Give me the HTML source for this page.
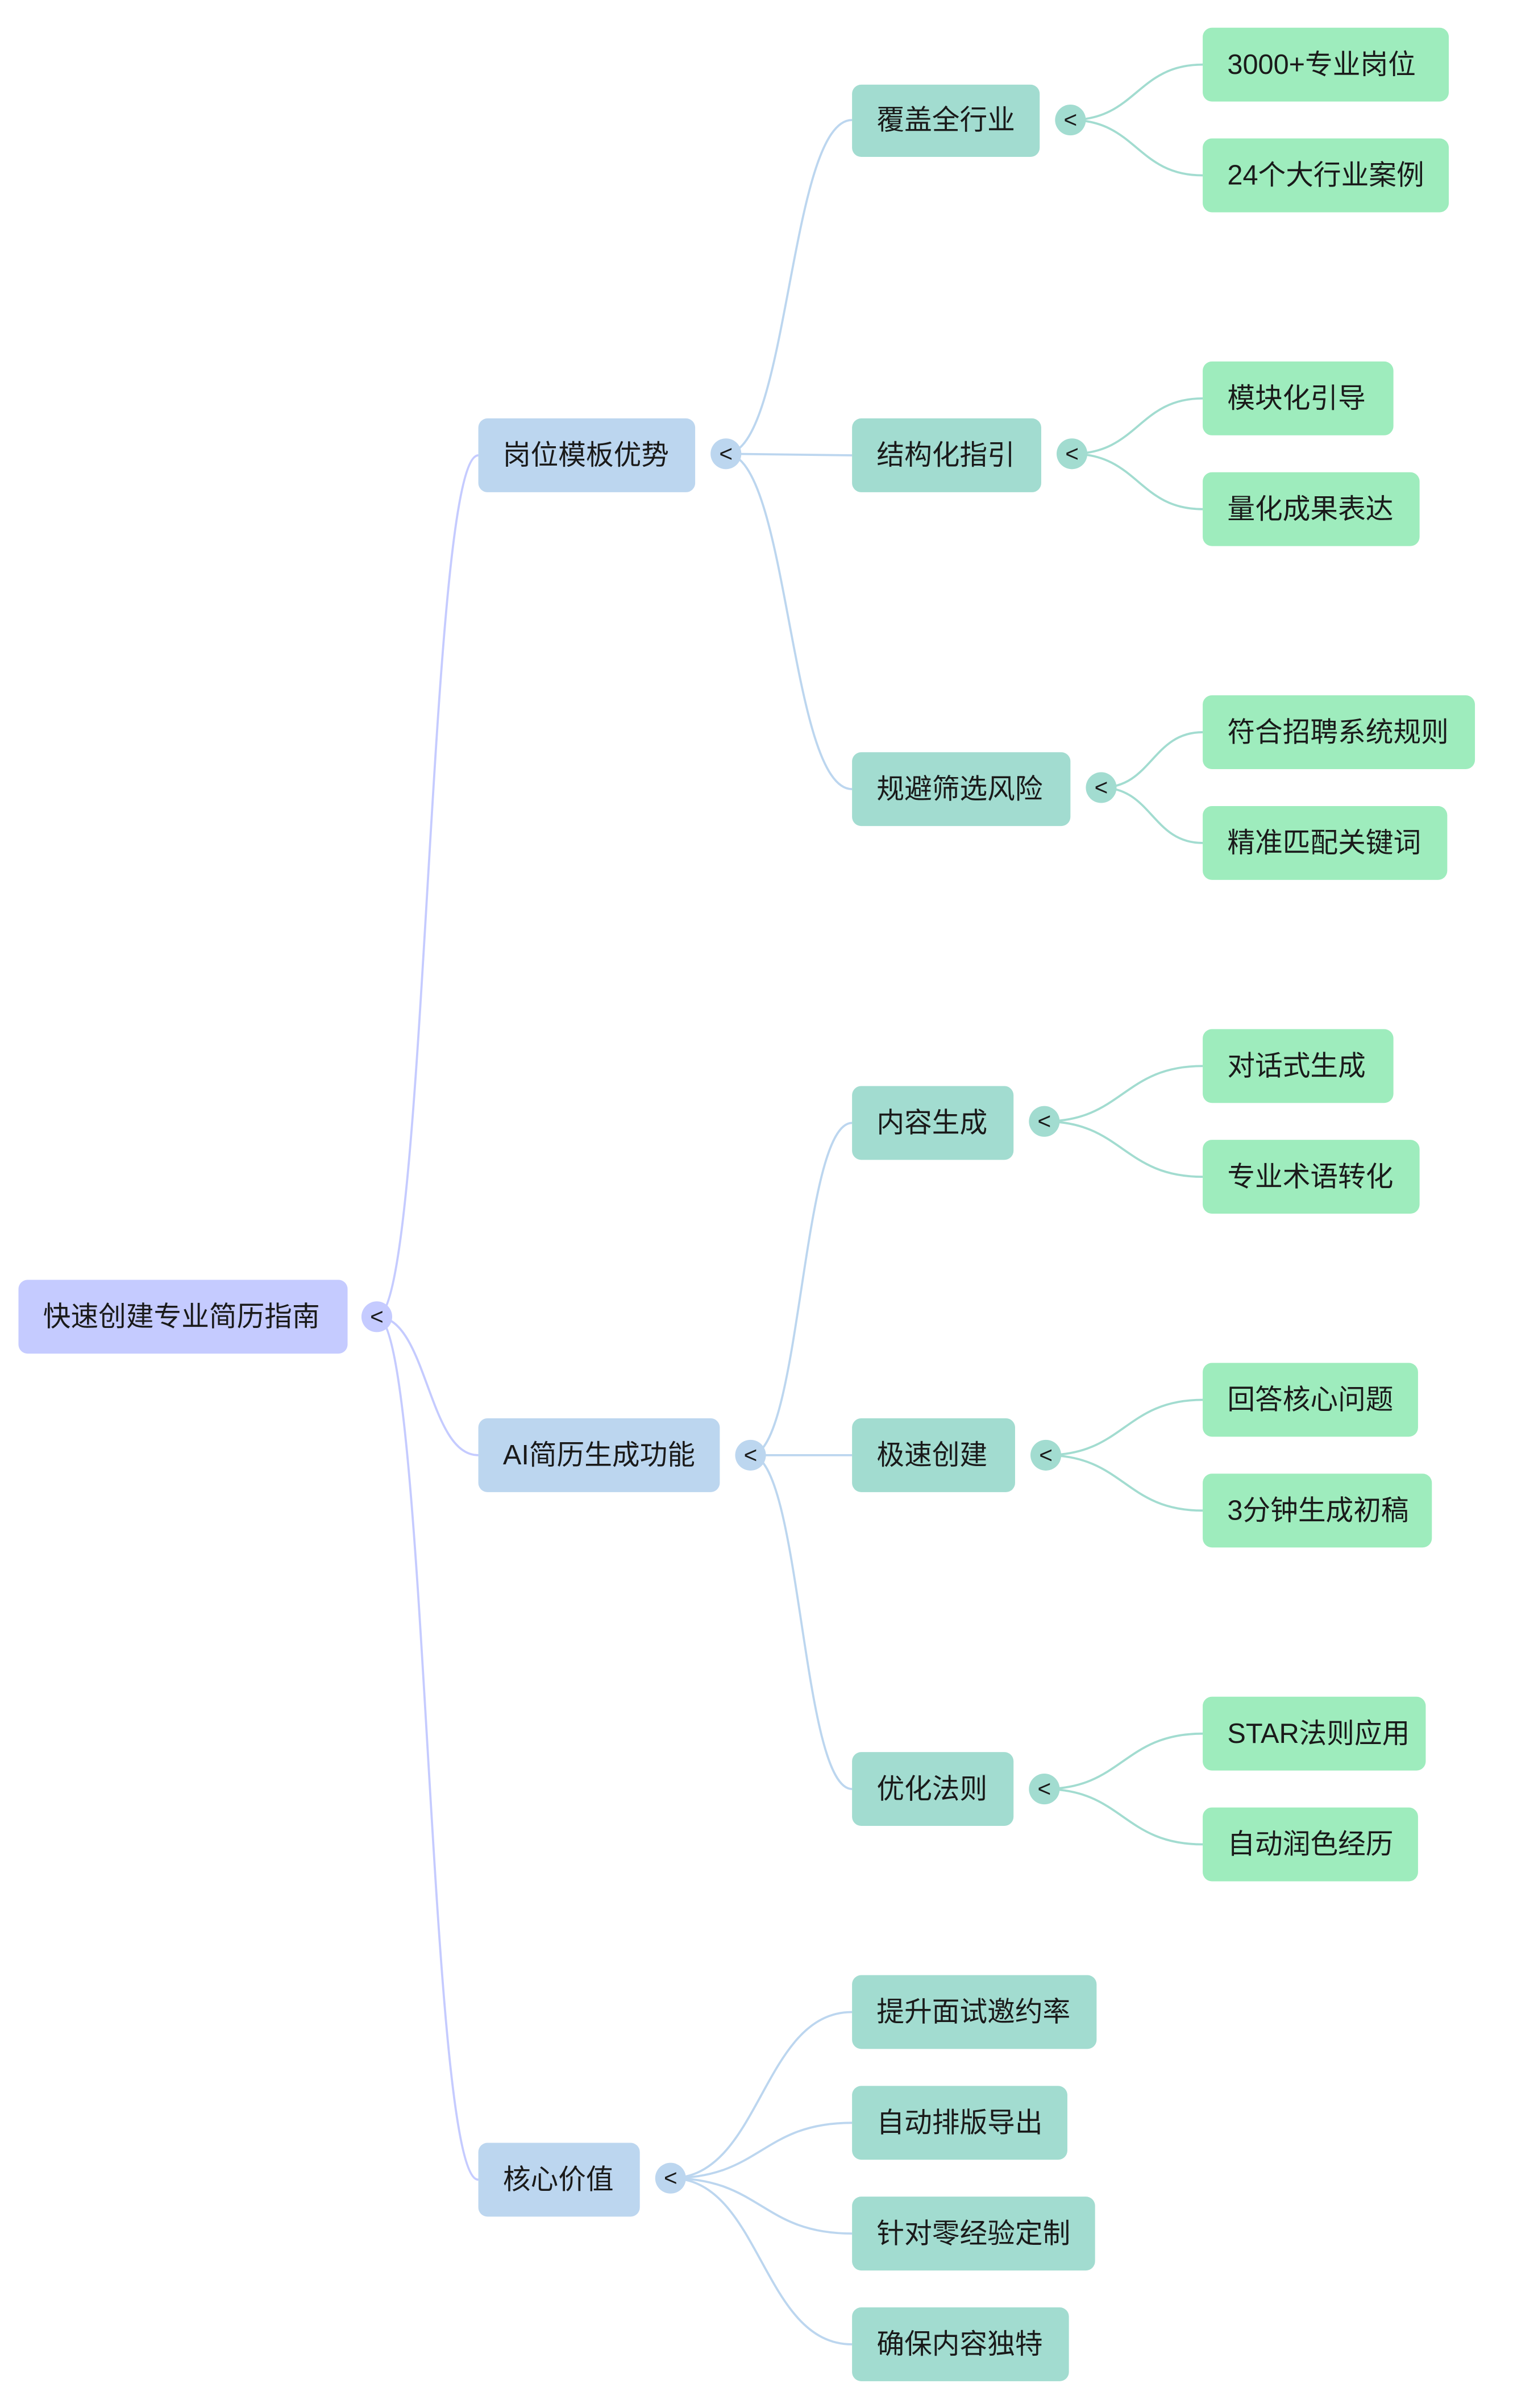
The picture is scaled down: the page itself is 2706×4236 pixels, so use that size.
<!DOCTYPE html>
<html><head><meta charset="utf-8"><style>
html,body{margin:0;padding:0;background:#fff;}
svg{display:block;}
text{font-family:"Liberation Sans","Noto Sans CJK SC",sans-serif;fill:#1a1a1a;}
</style></head><body>
<svg width="2706" height="4236" viewBox="0 0 1000 1565.4" xmlns="http://www.w3.org/2000/svg">
<g fill="none" stroke-width="1.4">
<g stroke="#c5cbff">
<path d="M245 856 C278 856 278 296 311 296"/>
<path d="M245 856 C278 856 278 946 311 946"/>
<path d="M245 856 C278 856 278 1417 311 1417"/>
</g>
<g stroke="#bcd6ef">
<path d="M472 295 C513 295 513 78 554 78"/>
<path d="M472 295 L554 296"/>
<path d="M472 295 C513 295 513 513 554 513"/>
<path d="M488 946 C521 946 521 730 554 730"/>
<path d="M488 946 L554 946"/>
<path d="M488 946 C521 946 521 1163 554 1163"/>
<path d="M436 1416 C495 1416 495 1308 554 1308"/>
<path d="M436 1416 C495 1416 495 1380 554 1380"/>
<path d="M436 1416 C495 1416 495 1452 554 1452"/>
<path d="M436 1416 C495 1416 495 1524 554 1524"/>
</g>
<g stroke="#a2dcd0">
<path d="M696 78 C739 78 739 42 782 42"/>
<path d="M696 78 C739 78 739 114 782 114"/>
<path d="M697 295 C740 295 740 259 782 259"/>
<path d="M697 295 C740 295 740 331 782 331"/>
<path d="M716 512 C749 512 749 476 782 476"/>
<path d="M716 512 C749 512 749 548 782 548"/>
<path d="M679 729 C730 729 730 693 782 693"/>
<path d="M679 729 C730 729 730 765 782 765"/>
<path d="M680 946 C731 946 731 910 782 910"/>
<path d="M680 946 C731 946 731 982 782 982"/>
<path d="M679 1163 C730 1163 730 1127 782 1127"/>
<path d="M679 1163 C730 1163 730 1199 782 1199"/>
</g>
</g>
<g font-size="18">
<rect x="12" y="832" width="214" height="48" rx="6" fill="#c5cbff"/>
<text x="28" y="862">快速创建专业简历指南</text>
<g fill="#bcd6ef">
<rect x="311" y="272" width="141" height="48" rx="6"/>
<rect x="311" y="922" width="157" height="48" rx="6"/>
<rect x="311" y="1393" width="105" height="48" rx="6"/>
</g>
<text x="327" y="302">岗位模板优势</text>
<text x="327" y="952">AI简历生成功能</text>
<text x="327" y="1423">核心价值</text>
<g fill="#a2dcd0">
<rect x="554" y="55" width="122" height="47" rx="6"/>
<rect x="554" y="272" width="123" height="48" rx="6"/>
<rect x="554" y="489" width="142" height="48" rx="6"/>
<rect x="554" y="706" width="105" height="48" rx="6"/>
<rect x="554" y="922" width="106" height="48" rx="6"/>
<rect x="554" y="1139" width="105" height="48" rx="6"/>
<rect x="554" y="1284" width="159" height="48" rx="6"/>
<rect x="554" y="1356" width="140" height="48" rx="6"/>
<rect x="554" y="1428" width="158" height="48" rx="6"/>
<rect x="554" y="1500" width="141" height="48" rx="6"/>
</g>
<text x="570" y="84">覆盖全行业</text>
<text x="570" y="302">结构化指引</text>
<text x="570" y="519">规避筛选风险</text>
<text x="570" y="736">内容生成</text>
<text x="570" y="952">极速创建</text>
<text x="570" y="1169">优化法则</text>
<text x="570" y="1314">提升面试邀约率</text>
<text x="570" y="1386">自动排版导出</text>
<text x="570" y="1458">针对零经验定制</text>
<text x="570" y="1530">确保内容独特</text>
<g fill="#9eecbd">
<rect x="782" y="18" width="160" height="48" rx="6"/>
<rect x="782" y="90" width="160" height="48" rx="6"/>
<rect x="782" y="235" width="124" height="48" rx="6"/>
<rect x="782" y="307" width="141" height="48" rx="6"/>
<rect x="782" y="452" width="177" height="48" rx="6"/>
<rect x="782" y="524" width="159" height="48" rx="6"/>
<rect x="782" y="669" width="124" height="48" rx="6"/>
<rect x="782" y="741" width="141" height="48" rx="6"/>
<rect x="782" y="886" width="140" height="48" rx="6"/>
<rect x="782" y="958" width="149" height="48" rx="6"/>
<rect x="782" y="1103" width="145" height="48" rx="6"/>
<rect x="782" y="1175" width="140" height="48" rx="6"/>
</g>
<text x="798" y="48">3000+专业岗位</text>
<text x="798" y="120">24个大行业案例</text>
<text x="798" y="265">模块化引导</text>
<text x="798" y="337">量化成果表达</text>
<text x="798" y="482">符合招聘系统规则</text>
<text x="798" y="554">精准匹配关键词</text>
<text x="798" y="699">对话式生成</text>
<text x="798" y="771">专业术语转化</text>
<text x="798" y="916">回答核心问题</text>
<text x="798" y="988">3分钟生成初稿</text>
<text x="798" y="1133">STAR法则应用</text>
<text x="798" y="1205">自动润色经历</text>
</g>
<g font-size="15" text-anchor="middle">
<circle cx="245" cy="856" r="10" fill="#c5cbff"/><text x="245" y="861">&lt;</text>
<circle cx="472" cy="295" r="10" fill="#bcd6ef"/><text x="472" y="300">&lt;</text>
<circle cx="488" cy="946" r="10" fill="#bcd6ef"/><text x="488" y="951">&lt;</text>
<circle cx="436" cy="1416" r="10" fill="#bcd6ef"/><text x="436" y="1421">&lt;</text>
<circle cx="696" cy="78" r="10" fill="#a2dcd0"/><text x="696" y="83">&lt;</text>
<circle cx="697" cy="295" r="10" fill="#a2dcd0"/><text x="697" y="300">&lt;</text>
<circle cx="716" cy="512" r="10" fill="#a2dcd0"/><text x="716" y="517">&lt;</text>
<circle cx="679" cy="729" r="10" fill="#a2dcd0"/><text x="679" y="734">&lt;</text>
<circle cx="680" cy="946" r="10" fill="#a2dcd0"/><text x="680" y="951">&lt;</text>
<circle cx="679" cy="1163" r="10" fill="#a2dcd0"/><text x="679" y="1168">&lt;</text>
</g>
</svg>
</body></html>
